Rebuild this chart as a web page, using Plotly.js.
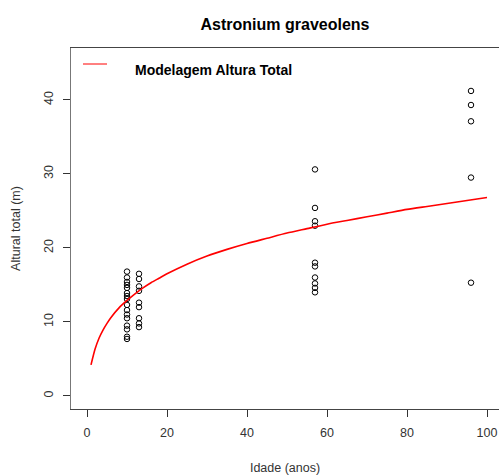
<!DOCTYPE html>
<html>
<head>
<meta charset="utf-8">
<script src="https://cdn.plot.ly/plotly-3.0.1.min.js"></script>
<style>html,body{margin:0;padding:0;background:#fff}#chart{width:499px;height:475px}</style>
</head>
<body>
<div id="chart"></div>
<script>
// Observed data (age in years, total height in m)
const obsAge = [
  10,10,10,10,10,10,10,10,10,10,10,10,10,10,10,10,
  13,13,13,13,13,13,13,13,13,
  57,57,57,57,57,57,57,57,57,57,
  96,96,96,96,96
];
const obsHeight = [
  16.8,16.0,15.4,15.0,14.6,13.9,13.5,13.1,12.3,11.6,11.0,10.5,9.5,9.0,8.0,7.7,
  16.5,15.8,14.8,14.2,12.6,12.0,10.5,9.8,9.3,
  30.6,25.4,23.6,23.0,18.0,17.5,16.0,15.2,14.6,14.0,
  41.2,39.3,37.1,29.5,15.3
];
// Fitted model curve
const modelAge = [1,2,3,4,5,6,8,10,12,14,16,18,20,25,30,35,40,45,50,55,60,65,70,75,80,85,90,95,100];
const modelHeight = [4.2,6.3,7.8,8.9,9.8,10.6,11.9,12.9,13.8,14.6,15.3,15.9,16.5,17.8,18.9,19.8,20.6,21.3,22.0,22.6,23.2,23.7,24.2,24.7,25.2,25.6,26.0,26.4,26.8];
const xTicks = [0,20,40,60,80,100];
const yTicks = [0,10,20,30,40];

const FONT = "Liberation Sans, Arial, sans-serif";

const traces = [
  {
    x: obsAge, y: obsHeight, type: 'scatter', mode: 'markers',
    marker: {symbol: 'circle-open', size: 5.5, color: '#000', line: {width: 1, color: '#000'}},
    showlegend: false, hoverinfo: 'x+y'
  },
  {
    x: modelAge, y: modelHeight, type: 'scatter', mode: 'lines',
    line: {color: '#ff0000', width: 1.6, shape: 'spline', smoothing: 0.6},
    name: 'Modelagem Altura Total', showlegend: false
  }
];

const layout = {
  width: 499, height: 475,
  margin: {l: 71, r: 0, t: 48, b: 66},
  paper_bgcolor: '#fff', plot_bgcolor: '#fff',
  font: {family: FONT, color: '#222', size: 12},
  title: {
    text: '<b>Astronium graveolens</b>',
    font: {family: FONT, size: 16, color: '#000'},
    x: 0.5, xref: 'paper', xanchor: 'center',
    y: 18, yref: 'container', yanchor: 'middle'
  },
  xaxis: {
    range: [-4, 103], tickvals: xTicks, ticktext: xTicks.map(String),
    ticks: 'outside', ticklen: 7, tickwidth: 1, tickcolor: '#333',
    ticklabelstandoff: 5,
    showgrid: false, zeroline: false,
    showline: true, linecolor: '#444', linewidth: 1, mirror: true,
    tickfont: {family: FONT, size: 12.5, color: '#333'},
    title: {text: 'Idade (anos)', font: {family: FONT, size: 12.5, color: '#333'}, standoff: 24}
  },
  yaxis: {
    range: [-1.76, 47.0], tickvals: yTicks, ticktext: yTicks.map(String),
    ticks: 'outside', ticklen: 7, tickwidth: 1, tickcolor: '#333',
    tickangle: -90, ticklabelstandoff: 5,
    showgrid: false, zeroline: false,
    showline: true, linecolor: '#777', linewidth: 1, mirror: false,
    tickfont: {family: FONT, size: 12.5, color: '#333'},
    title: {text: 'Altural total (m)', font: {family: FONT, size: 12.5, color: '#333'}, standoff: 18}
  },
  shapes: [
    {type: 'line', xref: 'paper', yref: 'paper', x0: 12/428, x1: 36/428, y0: (409-64)/361, y1: (409-64)/361,
     line: {color: '#ff0000', width: 1}}
  ],
  annotations: [
    {text: '<b>Modelagem Altura Total</b>', xref: 'paper', yref: 'paper',
     x: 62/428, y: (409-70)/361, xanchor: 'left', yanchor: 'middle', showarrow: false,
     font: {family: FONT, size: 14, color: '#000'}}
  ]
};

Plotly.newPlot('chart', traces, layout, {displayModeBar: false, staticPlot: true});
</script>
</body>
</html>
